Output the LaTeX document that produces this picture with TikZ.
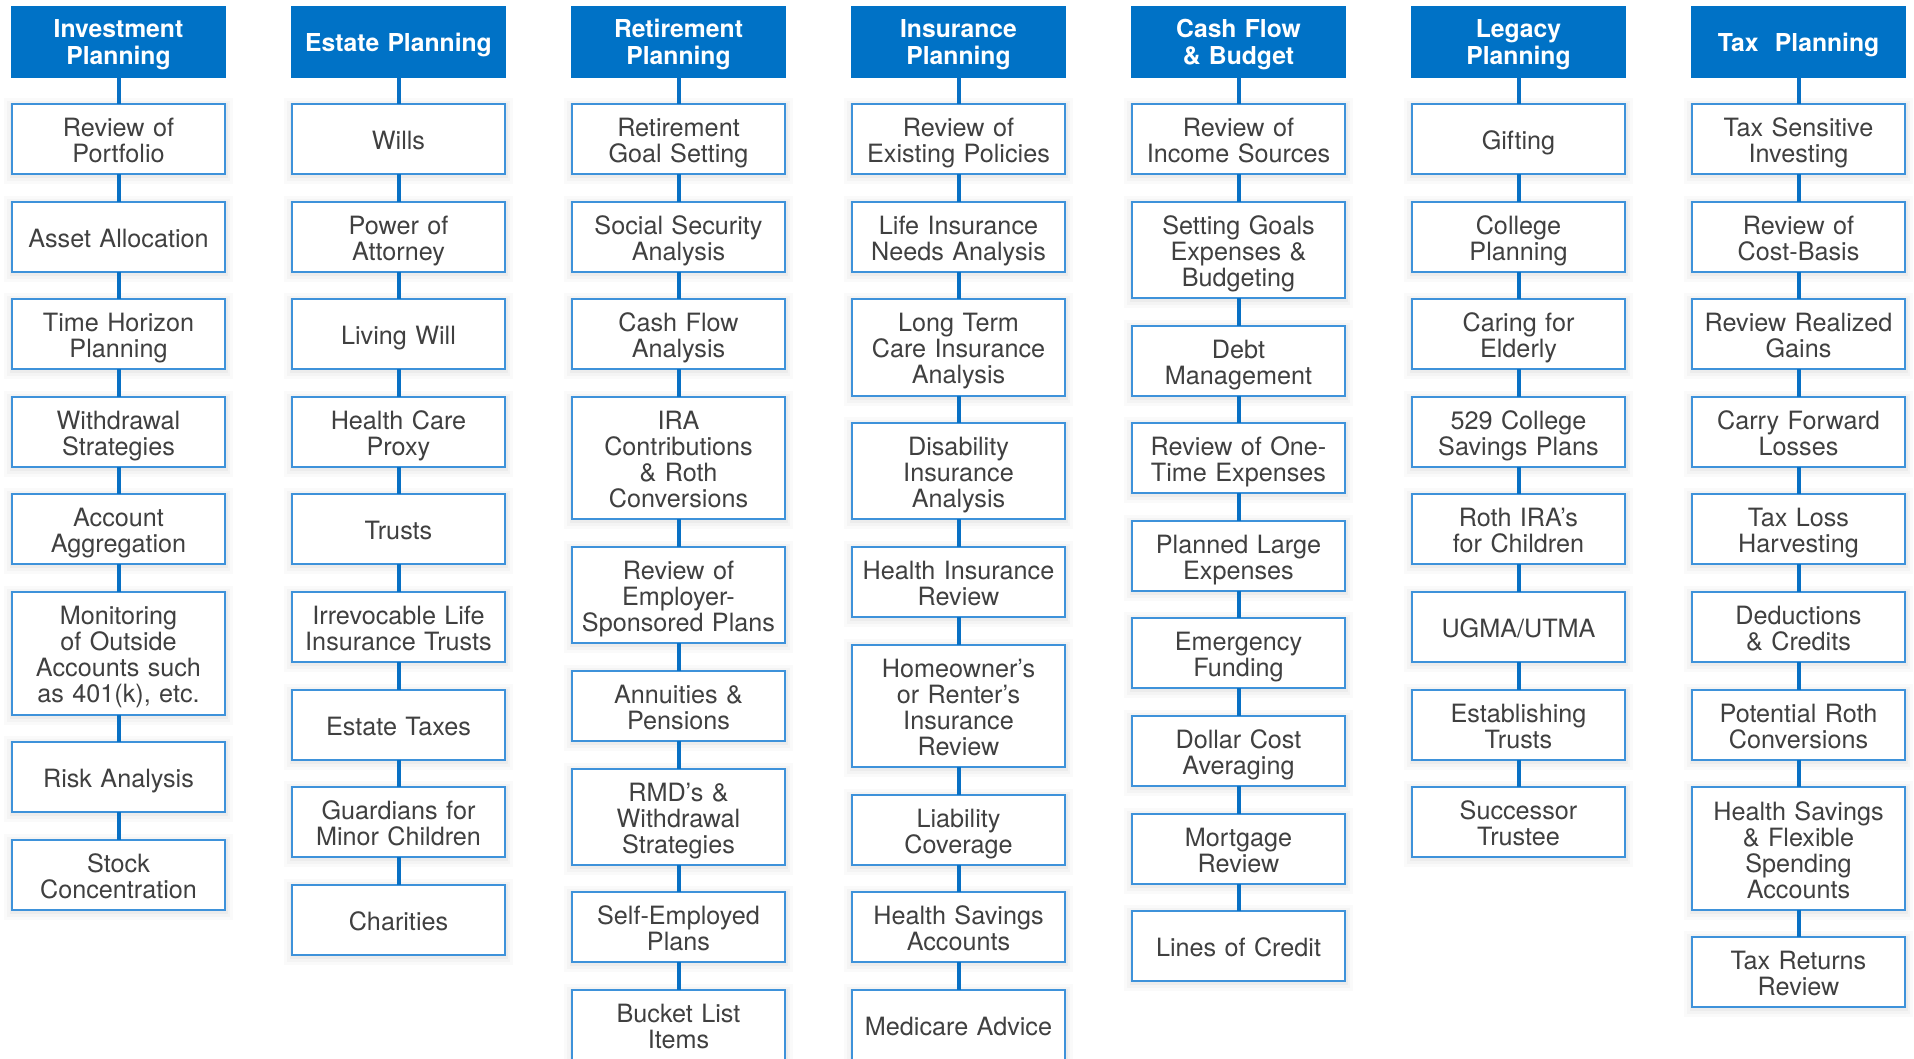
\documentclass[tikz,border=0pt]{standalone}
\usepackage{fontspec}
\setmainfont{TeX Gyre Heros}
\definecolor{hdrblue}{RGB}{0,114,198}
\definecolor{lnblue}{RGB}{8,112,196}
\definecolor{bdblue}{RGB}{62,146,218}
\definecolor{txtgray}{RGB}{64,64,64}
\tikzset{
  hdr/.style={fill=hdrblue, text=white, minimum width=215pt, minimum height=72pt,
    text width=211pt, inner xsep=2pt, inner ysep=0pt, outer sep=0pt, align=center,
    anchor=north, font=\fontsize{24.7pt}{27pt}\selectfont\bfseries, text height=24.5pt,
    execute at end node={\rule[-6pt]{0pt}{6pt}}},
  softshadow/.style={
    preaction={draw=black, draw opacity=0.018, line width=16pt, transform canvas={yshift=-2pt}},
    preaction={draw=black, draw opacity=0.022, line width=10pt, transform canvas={yshift=-2pt}},
    preaction={draw=black, draw opacity=0.03, line width=5pt, transform canvas={yshift=-1.5pt}}},
  item/.style={softshadow, draw=bdblue, line width=2pt, fill=white, minimum width=213pt,
    text width=209pt, inner xsep=2pt, inner ysep=0pt, outer sep=0pt, align=center,
    anchor=north, font=\fontsize{25.2pt}{26pt}\selectfont, text=txtgray, text height=27pt,
    execute at end node={\rule[-6pt]{0pt}{6pt}}},
  conn/.style={draw=lnblue, line width=4pt}
}
\newcommand\colstart[3]{%
  \node[hdr] (#2) at (#1,6) {#3};
  \xdef\cx{#1}\xdef\yt{104}\xdef\prev{#2}}
\newcommand\colitem[3]{%
  \pgfmathsetmacro\hh{70+26.3*max(#1-2,0)}%
  \node[item, minimum height=\hh pt] (#2) at (\cx,\yt) {#3};
  \draw[conn] (\prev.south) -- (#2.north);
  \pgfmathsetmacro\ny{\yt+\hh+27.6}\xdef\yt{\ny}\xdef\prev{#2}}
\begin{document}
\begin{tikzpicture}[x=1pt, y=-1pt]
\fill[white] (0,0) rectangle (1914,1058);
\useasboundingbox (0,0) rectangle (1914,1058);
\clip (0,0) rectangle (1914,1058);
% Column 1
\colstart{118.5}{c1}{Investment\\Planning}
\colitem{2}{c1a}{Review of\\Portfolio}
\colitem{1}{c1b}{Asset Allocation}
\colitem{2}{c1c}{Time Horizon\\Planning}
\colitem{2}{c1d}{Withdrawal\\Strategies}
\colitem{2}{c1e}{Account\\Aggregation}
\colitem{4}{c1f}{Monitoring\\of Outside\\Accounts such\\as 401(k), etc.}
\colitem{1}{c1g}{Risk Analysis}
\colitem{2}{c1h}{Stock\\Concentration}
% Column 2
\colstart{398.5}{c2}{Estate Planning}
\colitem{1}{c2a}{Wills}
\colitem{2}{c2b}{Power of\\Attorney}
\colitem{1}{c2c}{Living Will}
\colitem{2}{c2d}{Health Care\\Proxy}
\colitem{1}{c2e}{Trusts}
\colitem{2}{c2f}{Irrevocable Life\\Insurance Trusts}
\colitem{1}{c2g}{Estate Taxes}
\colitem{2}{c2h}{Guardians for\\Minor Children}
\colitem{1}{c2i}{Charities}
% Column 3
\colstart{678.5}{c3}{Retirement\\Planning}
\colitem{2}{c3a}{Retirement\\Goal Setting}
\colitem{2}{c3b}{Social Security\\Analysis}
\colitem{2}{c3c}{Cash Flow\\Analysis}
\colitem{4}{c3d}{IRA\\Contributions\\\& Roth\\Conversions}
\colitem{3}{c3e}{Review of\\Employer-\\Sponsored Plans}
\colitem{2}{c3f}{Annuities \&\\Pensions}
\colitem{3}{c3g}{RMD’s \&\\Withdrawal\\Strategies}
\colitem{2}{c3h}{Self-Employed\\Plans}
\colitem{2}{c3i}{Bucket List\\Items}
% Column 4
\colstart{958.5}{c4}{Insurance\\Planning}
\colitem{2}{c4a}{Review of\\Existing Policies}
\colitem{2}{c4b}{Life Insurance\\Needs Analysis}
\colitem{3}{c4c}{Long Term\\Care Insurance\\Analysis}
\colitem{3}{c4d}{Disability\\Insurance\\Analysis}
\colitem{2}{c4e}{Health Insurance\\Review}
\colitem{4}{c4f}{Homeowner’s\\or Renter’s\\Insurance\\Review}
\colitem{2}{c4g}{Liability\\Coverage}
\colitem{2}{c4h}{Health Savings\\Accounts}
\colitem{1}{c4i}{Medicare Advice}
% Column 5
\colstart{1238.5}{c5}{Cash Flow\\\& Budget}
\colitem{2}{c5a}{Review of\\Income Sources}
\colitem{3}{c5b}{Setting Goals\\Expenses \&\\Budgeting}
\colitem{2}{c5c}{Debt\\Management}
\colitem{2}{c5d}{Review of One-\\Time Expenses}
\colitem{2}{c5e}{Planned Large\\Expenses}
\colitem{2}{c5f}{Emergency\\Funding}
\colitem{2}{c5g}{Dollar Cost\\Averaging}
\colitem{2}{c5h}{Mortgage\\Review}
\colitem{1}{c5i}{Lines of Credit}
% Column 6
\colstart{1518.5}{c6}{Legacy\\Planning}
\colitem{1}{c6a}{Gifting}
\colitem{2}{c6b}{College\\Planning}
\colitem{2}{c6c}{Caring for\\Elderly}
\colitem{2}{c6d}{529 College\\Savings Plans}
\colitem{2}{c6e}{Roth IRA’s\\for Children}
\colitem{1}{c6f}{UGMA/UTMA}
\colitem{2}{c6g}{Establishing\\Trusts}
\colitem{2}{c6h}{Successor\\Trustee}
% Column 7
\colstart{1798.5}{c7}{Tax~~Planning}
\colitem{2}{c7a}{Tax Sensitive\\Investing}
\colitem{2}{c7b}{Review of\\Cost-Basis}
\colitem{2}{c7c}{Review Realized\\Gains}
\colitem{2}{c7d}{Carry Forward\\Losses}
\colitem{2}{c7e}{Tax Loss\\Harvesting}
\colitem{2}{c7f}{Deductions\\\& Credits}
\colitem{2}{c7g}{Potential Roth\\Conversions}
\colitem{4}{c7h}{Health Savings\\\& Flexible\\Spending\\Accounts}
\colitem{2}{c7i}{Tax Returns\\Review}
\end{tikzpicture}
\end{document}
